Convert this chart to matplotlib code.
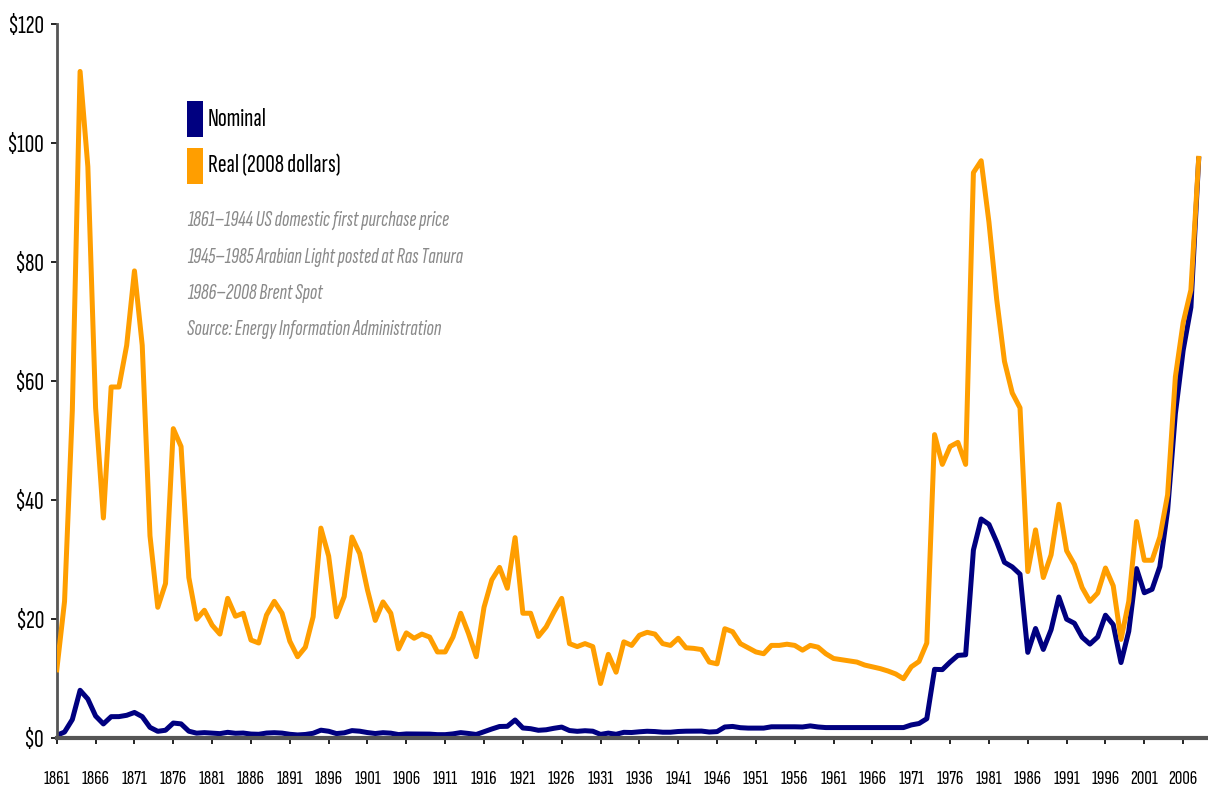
import matplotlib
matplotlib.use('Agg')
import matplotlib.pyplot as plt
from matplotlib import font_manager
from matplotlib.patches import Rectangle

# Fonte estreita: a primeira que estiver instalada
nomes = {f.name for f in font_manager.fontManager.ttflist}
candidatas = ['Sofia Sans Extra Condensed', 'Fira Sans Extra Condensed', 'Roboto Condensed',
              'Barlow Condensed', 'Archivo Narrow', 'Liberation Sans']
FONTE = next(n for n in candidatas if n in nomes)
plt.rcParams['font.family'] = [FONTE, 'DejaVu Sans']

anos = list(range(1861, 2009))

# Preço nominal (US$ por barril)
nominal = [
    0.49, 1.05, 3.15, 8.06, 6.59, 3.74, 2.41, 3.63, 3.64, 3.86,
    4.34, 3.64, 1.83, 1.17, 1.35, 2.56, 2.42, 1.19, 0.86, 0.95,
    0.86, 0.78, 1.00, 0.84, 0.88, 0.71, 0.67, 0.88, 0.94, 0.87,
    0.67, 0.56, 0.64, 0.84, 1.36, 1.18, 0.79, 0.91, 1.29, 1.19,
    0.96, 0.80, 0.94, 0.86, 0.62, 0.73, 0.72, 0.72, 0.70, 0.61,
    0.61, 0.74, 0.95, 0.81, 0.64, 1.10, 1.56, 1.98, 2.01, 3.07,
    1.73, 1.61, 1.34, 1.43, 1.68, 1.88, 1.30, 1.17, 1.27, 1.19,
    0.65, 0.87, 0.67, 1.00, 0.97, 1.09, 1.18, 1.13, 1.02, 1.02,
    1.14, 1.19, 1.20, 1.21, 1.05, 1.12, 1.90, 1.99, 1.78, 1.71,
    1.71, 1.71, 1.93, 1.93, 1.93, 1.93, 1.90, 2.08, 1.90, 1.80,
    1.80, 1.80, 1.80, 1.80, 1.80, 1.80, 1.80, 1.80, 1.80, 1.80,
    2.24, 2.48, 3.29, 11.58, 11.53, 12.80, 13.92, 14.02, 31.61, 36.83,
    35.93, 32.97, 29.55, 28.78, 27.56, 14.43, 18.44, 14.92, 18.23, 23.73,
    20.00, 19.32, 16.97, 15.82, 17.02, 20.67, 19.09, 12.72, 17.97, 28.50,
    24.44, 25.02, 28.83, 38.27, 54.52, 65.14, 72.39, 97.26,
]

# Preço real (dólares de 2008)
real = [
    11.5, 23.0, 55.0, 112.0, 96.0, 55.5, 37.0, 59.0, 59.0, 66.0,
    78.5, 66.0, 34.0, 22.0, 26.0, 52.0, 49.0, 27.0, 20.0, 21.5,
    19.0, 17.5, 23.5, 20.5, 21.0, 16.5, 16.0, 20.7, 23.0, 21.0,
    16.3, 13.7, 15.3, 20.4, 35.3, 30.6, 20.4, 23.8, 33.8, 31.0,
    24.9, 19.8, 22.9, 21.0, 15.0, 17.7, 16.8, 17.5, 17.0, 14.5,
    14.5, 17.0, 21.0, 17.6, 13.7, 22.0, 26.6, 28.7, 25.2, 33.7,
    21.0, 21.0, 17.1, 18.7, 21.2, 23.5, 15.9, 15.4, 15.9, 15.4,
    9.2, 14.1, 11.1, 16.2, 15.6, 17.3, 17.8, 17.5, 15.9, 15.6,
    16.8, 15.2, 15.1, 14.9, 12.8, 12.5, 18.4, 17.9, 15.9, 15.2,
    14.5, 14.2, 15.6, 15.6, 15.8, 15.6, 14.8, 15.6, 15.3, 14.2,
    13.4, 13.2, 13.0, 12.8, 12.3, 12.0, 11.7, 11.3, 10.8, 10.0,
    12.0, 12.9, 16.0, 51.0, 46.0, 49.0, 49.7, 46.0, 95.0, 97.0,
    86.7, 73.7, 63.3, 58.0, 55.5, 28.0, 35.0, 27.0, 30.8, 39.3,
    31.5, 29.2, 25.3, 23.0, 24.4, 28.6, 25.6, 16.6, 23.0, 36.4,
    29.9, 29.9, 33.8, 40.9, 60.7, 69.8, 75.3, 97.4,
]

anos_ticks = list(range(1861, 2007, 5))
valores_y = [0, 20, 40, 60, 80, 100, 120]
rotulos_y = ['$' + str(v) for v in valores_y]

legenda = ['Nominal', 'Real (2008 dollars)']
notas = [
    '1861\u20131944 US domestic first purchase price',
    '1945\u20131985 Arabian Light posted at Ras Tanura',
    '1986\u20132008 Brent Spot',
    'Source: Energy Information Administration',
]

AZUL = '#000080'
LARANJA = '#FF9E00'
CINZA_EIXO = '#555555'

fig = plt.figure(figsize=(12.08, 7.93), dpi=100)
ax = fig.add_axes([0.047, 0.069, 0.953, 0.901])

ax.plot(anos, nominal, color=AZUL, linewidth=3.6, solid_joinstyle='round', zorder=2)
ax.plot(anos, real, color=LARANJA, linewidth=3.6, solid_joinstyle='round', zorder=3)

ax.set_xlim(1861, 2009.2)
ax.set_ylim(0, 120)

ax.set_xticks(anos_ticks)
ax.set_xticklabels([str(a) for a in anos_ticks], fontsize=15, fontweight='semibold')
ax.set_yticks(valores_y)
ax.set_yticklabels(rotulos_y, fontsize=19)

for lado in ['top', 'right']:
    ax.spines[lado].set_visible(False)
ax.spines['left'].set_color(CINZA_EIXO)
ax.spines['left'].set_linewidth(2.0)
ax.spines['bottom'].set_color(CINZA_EIXO)
ax.spines['bottom'].set_linewidth(3.0)
ax.tick_params(axis='x', direction='out', length=4, width=1.2, color='black', pad=19)
ax.tick_params(axis='y', direction='out', length=4, width=1.2, color='black', pad=5)

# Legenda desenhada à mão
cores = [AZUL, LARANJA]
ys = [0.8272, 0.768]
for cor, y0, texto in zip(cores, ys, legenda):
    fig.patches.append(Rectangle((0.1548, y0), 0.0132, 0.0454, transform=fig.transFigure,
                                 facecolor=cor, edgecolor='none'))
    fig.text(0.172, y0 + 0.0227, texto, fontsize=19, ha='left', va='center', color='black')

for i, nota in enumerate(notas):
    fig.text(0.1548, 0.7215 - i * 0.0458, nota, fontsize=16, style='italic',
             color='#8a8a8a', ha='left', va='center')

plt.savefig('out.png', dpi=100)
plt.close(fig)
